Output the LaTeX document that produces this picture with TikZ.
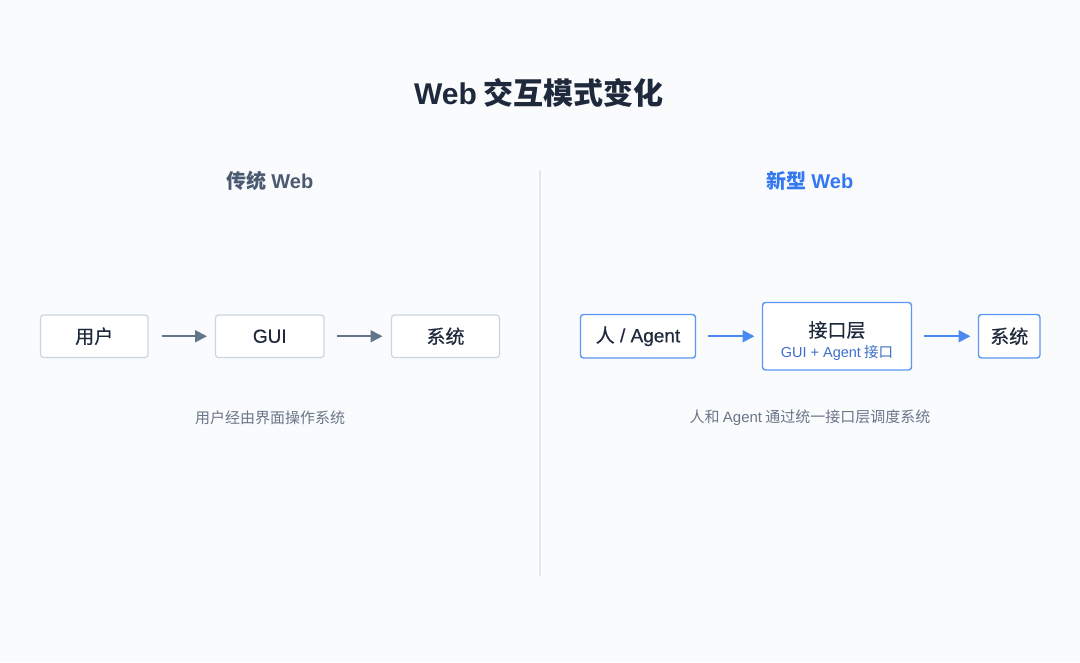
\documentclass[tikz,border=0pt]{standalone}
\usepackage{fontspec}
\setmainfont{Noto Sans CJK SC}
\newfontfamily\latf{Liberation Sans}
\newfontfamily\latm[FakeBold=0.5]{Liberation Sans}
\newfontfamily\medf[FakeBold=0.5]{Noto Sans CJK SC}
\newcommand{\lt}[1]{{\latf #1}}
\newcommand{\ltm}[1]{{\latm #1}}
\usetikzlibrary{arrows.meta}
\definecolor{bg}{HTML}{F9FBFD}
\definecolor{titlec}{HTML}{1E293B}
\definecolor{headl}{HTML}{4A5A70}
\definecolor{headr}{HTML}{3478F0}
\definecolor{boxl}{HTML}{CBD5E1}
\definecolor{arrl}{HTML}{64748B}
\definecolor{boxr}{HTML}{5B96F5}
\definecolor{arrr}{HTML}{4A88F2}
\definecolor{subr}{HTML}{3F6FC8}
\definecolor{capc}{HTML}{6B7689}
\definecolor{divc}{HTML}{E2E8F0}
\begin{document}
\begin{tikzpicture}[x=1pt,y=-1pt,
  lbox/.style={draw=boxl,line width=1.2pt,fill=white,rounded corners=3pt},
  rbox/.style={draw=boxr,line width=1.4pt,fill=white,rounded corners=3pt},
  boxtext/.style={text=titlec,font=\medf\fontsize{19}{21}\selectfont},
  larrow/.style={draw=arrl,line width=1.8pt,-{Triangle[length=12pt,width=12pt]}},
  rarrow/.style={draw=arrr,line width=1.8pt,-{Triangle[length=12pt,width=12pt]}},
  captext/.style={text=capc,font=\fontsize{15}{17}\selectfont},
  headtext/.style={font=\bfseries\fontsize{20}{23}\selectfont}]
\fill[bg] (0,0) rectangle (1080,662);
\useasboundingbox (0,0) rectangle (1080,662);
\node[text=titlec,font=\bfseries\fontsize{30}{34}\selectfont] (title) at (539,93) {{\latf\bfseries Web} 交互模式变化};
\node[headtext,text=headl] (hl) at (270,181) {传统 {\latf\bfseries Web}};
\node[headtext,text=headr] (hr) at (810,181) {新型 {\latf\bfseries Web}};
\coordinate (dtop) at (540,170);
\coordinate (dbot) at (540,576);
\draw[divc,line width=1.2pt] (dtop) -- (dbot);
% left
\draw[lbox] (40.5,315) rectangle (148,357.5);
\node[boxtext] (user) at (94.25,336.25) {用户};
\draw[lbox] (215.5,315) rectangle (324,357.5);
\node[boxtext] (gui) at (269.75,336.25) {\ltm{GUI}};
\draw[lbox] (391.5,315) rectangle (499.5,357.5);
\node[boxtext] (sysl) at (445.5,336.25) {系统};
\coordinate (a1s) at (161.5,336.25);
\coordinate (a1e) at (207,336.25);
\coordinate (a2s) at (337,336.25);
\coordinate (a2e) at (382.5,336.25);
\draw[larrow] (a1s) -- (a1e);
\draw[larrow] (a2s) -- (a2e);
\node[captext] (capl) at (270,418) {用户经由界面操作系统};
% right
\draw[rbox] (580.5,314.5) rectangle (695.5,358);
\node[boxtext] (agent) at (638,336.25) {人\ltm{ / Agent}};
\draw[rbox] (762.5,302.5) rectangle (911.5,370);
\node[boxtext] (iface) at (837,330) {接口层};
\node[text=subr,font=\fontsize{14.5}{16}\selectfont] (isub) at (837,352.5) {\lt{GUI + Agent} 接口};
\draw[rbox] (978.5,314.5) rectangle (1040,358);
\node[boxtext] (sysr) at (1009.25,336.25) {系统};
\coordinate (b1s) at (708,336.25);
\coordinate (b1e) at (754.5,336.25);
\coordinate (b2s) at (924,336.25);
\coordinate (b2e) at (970.5,336.25);
\draw[rarrow] (b1s) -- (b1e);
\draw[rarrow] (b2s) -- (b2e);
\node[captext] (capr) at (810,418) {人和 \lt{Agent} 通过统一接口层调度系统};
\end{tikzpicture}
\end{document}
